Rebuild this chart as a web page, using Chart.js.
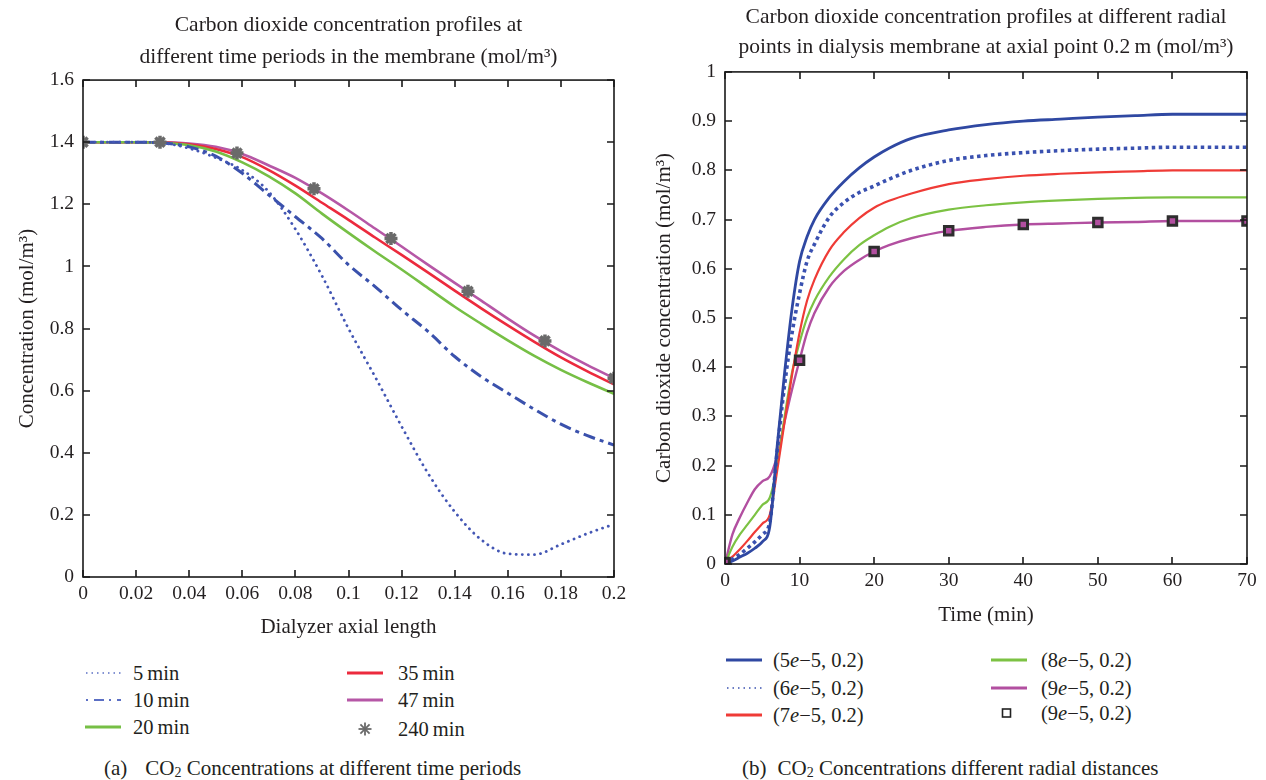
<!DOCTYPE html>
<html>
<head>
<meta charset="utf-8">
<script src="https://cdn.jsdelivr.net/npm/chart.js@4.4.1/dist/chart.umd.min.js"></script>
<style>
  body { margin: 0; background: #fff; }
  #page { position: relative; width: 1266px; height: 780px; overflow: hidden; font-family: 'Liberation Serif', serif; color: #231f20; }
  #page canvas { position: absolute; }
  .leg { position: absolute; height: 24px; font-size: 20.5px; line-height: 24px; white-space: nowrap; }
  .leg svg { position: absolute; left: 0; top: 0; }
  .leg span { position: absolute; top: 0; }
  .cap { position: absolute; font-size: 21px; line-height: 24px; white-space: nowrap; }
</style>
</head>
<body>
<div id="page">
  <canvas id="chartA" width="640" height="645" style="left:0;top:0"></canvas>
  <canvas id="chartB" width="626" height="640" style="left:640px;top:0"></canvas>
  <div class="cap" style="left:104px;top:756px">(a)<span style="margin-left:18px">CO<sub style="font-size:14px;vertical-align:-2px">2</sub> Concentrations at different time periods</span></div>
  <div class="cap" style="left:742px;top:756px">(b)<span style="margin-left:11px">CO<sub style="font-size:14px;vertical-align:-2px">2</sub> Concentrations different radial distances</span></div>
</div>
<script>
// ---- (a) concentration along the dialyzer ----
const axialX = [0, 0.01, 0.02, 0.03, 0.04, 0.05, 0.06, 0.07, 0.08, 0.09, 0.1,
                0.11, 0.12, 0.13, 0.14, 0.15, 0.16, 0.17, 0.18, 0.19, 0.2];
const conc5min  = [1.4, 1.4, 1.4, 1.397, 1.38, 1.35, 1.31, 1.24, 1.12, 0.97, 0.8,
                   0.645, 0.485, 0.333, 0.21, 0.12, 0.075, 0.072, 0.105, 0.14, 0.17];
const conc10min = [1.4, 1.4, 1.4, 1.397, 1.385, 1.355, 1.3, 1.23, 1.16, 1.09, 1.005,
                   0.935, 0.86, 0.79, 0.71, 0.645, 0.592, 0.54, 0.492, 0.455, 0.425];
const conc20min = [1.4, 1.4, 1.4, 1.398, 1.39, 1.37, 1.335, 1.29, 1.235, 1.17, 1.108,
                   1.048, 0.99, 0.93, 0.87, 0.815, 0.762, 0.712, 0.667, 0.627, 0.59];
const conc35min = [1.4, 1.4, 1.4, 1.399, 1.393, 1.378, 1.352, 1.31, 1.26, 1.205, 1.15,
                   1.093, 1.037, 0.98, 0.922, 0.865, 0.81, 0.757, 0.707, 0.662, 0.62];
const conc47min = [1.4, 1.4, 1.4, 1.4, 1.396, 1.385, 1.362, 1.325, 1.285, 1.235, 1.18,
                   1.122, 1.064, 1.005, 0.947, 0.89, 0.832, 0.777, 0.727, 0.682, 0.64];
const star240X = [0, 0.029, 0.058, 0.087, 0.116, 0.145, 0.174, 0.2];
const star240Y = [1.4, 1.4, 1.365, 1.25, 1.09, 0.92, 0.76, 0.64];
const timeLabels = ['5\u2009min', '10\u2009min', '20\u2009min', '35\u2009min', '47\u2009min', '240\u2009min'];
const axialTicks = [0, 0.02, 0.04, 0.06, 0.08, 0.1, 0.12, 0.14, 0.16, 0.18, 0.2];
const axialTickLabels = ['0', '0.02', '0.04', '0.06', '0.08', '0.1', '0.12', '0.14', '0.16', '0.18', '0.2'];
const concTicksA = [0, 0.2, 0.4, 0.6, 0.8, 1, 1.2, 1.4, 1.6];
const concTickLabelsA = ['0', '0.2', '0.4', '0.6', '0.8', '1', '1.2', '1.4', '1.6'];

// ---- (b) concentration over time at radial points ----
const timeMin = [0, 1, 2, 3, 4, 5, 6, 7, 8, 9, 10, 11, 12, 14, 16, 18, 20, 22, 25, 30, 35, 40, 45, 50, 55, 60, 65, 70];
const r5e5 = [0, 0.006, 0.014, 0.022, 0.032, 0.045, 0.075, 0.24, 0.39, 0.52, 0.615, 0.665, 0.7, 0.745,
              0.778, 0.805, 0.827, 0.845, 0.865, 0.882, 0.893, 0.9, 0.904, 0.908, 0.911, 0.914, 0.914, 0.914];
const r6e5 = [0, 0.01, 0.02, 0.032, 0.045, 0.06, 0.085, 0.23, 0.365, 0.47, 0.55, 0.615, 0.65, 0.705,
              0.735, 0.755, 0.768, 0.782, 0.8, 0.82, 0.83, 0.836, 0.84, 0.843, 0.845, 0.847, 0.847, 0.847];
const r7e5 = [0, 0.015, 0.03, 0.047, 0.065, 0.082, 0.1, 0.19, 0.29, 0.385, 0.47, 0.535, 0.578, 0.638,
              0.675, 0.703, 0.724, 0.738, 0.753, 0.772, 0.782, 0.789, 0.793, 0.796, 0.798, 0.8, 0.8, 0.8];
const r8e5 = [0, 0.035, 0.06, 0.08, 0.1, 0.12, 0.135, 0.2, 0.3, 0.39, 0.45, 0.5, 0.535, 0.584,
              0.62, 0.648, 0.668, 0.685, 0.703, 0.72, 0.729, 0.735, 0.739, 0.742, 0.744, 0.745, 0.745, 0.745];
const r9e5 = [0, 0.06, 0.095, 0.125, 0.152, 0.168, 0.178, 0.22, 0.29, 0.355, 0.414, 0.47, 0.51, 0.563,
              0.596, 0.618, 0.635, 0.648, 0.662, 0.677, 0.685, 0.69, 0.692, 0.694, 0.695, 0.697, 0.697, 0.697];
const markX = [0, 10, 20, 30, 40, 50, 60, 70];
const markY = [0.003, 0.414, 0.635, 0.677, 0.69, 0.694, 0.697, 0.697];
const radialLabels = ['(5e\u22125, 0.2)', '(6e\u22125, 0.2)', '(7e\u22125, 0.2)', '(8e\u22125, 0.2)', '(9e\u22125, 0.2)', '(9e\u22125, 0.2)'];
const timeTicks = [0, 10, 20, 30, 40, 50, 60, 70];
const timeTickLabels = ['0', '10', '20', '30', '40', '50', '60', '70'];
const concTicksB = [0, 0.1, 0.2, 0.3, 0.4, 0.5, 0.6, 0.7, 0.8, 0.9, 1];
const concTickLabelsB = ['0', '0.1', '0.2', '0.3', '0.4', '0.5', '0.6', '0.7', '0.8', '0.9', '1'];

const FONT = "'Liberation Serif', serif";
const INK = '#231f20';
const tickFont = { family: FONT, size: 19.5, weight: 'normal' };
const axisTitleFont = { family: FONT, size: 21, weight: 'normal' };

const pts = (xs, ys) => xs.map((x, i) => ({ x: x, y: ys[i] }));

// box round the plot with ticks pointing inwards on all four sides
const frameTicks = {
  id: 'frameTicks',
  afterDatasetsDraw(chart) {
    const { ctx, chartArea: a, scales } = chart;
    const len = 7;
    ctx.save();
    ctx.strokeStyle = '#1a1a1a';
    ctx.lineWidth = 1.6;
    ctx.strokeRect(a.left, a.top, a.width, a.height);
    ctx.beginPath();
    scales.x.ticks.forEach(t => {
      const px = Math.round(scales.x.getPixelForValue(t.value));
      ctx.moveTo(px, a.bottom); ctx.lineTo(px, a.bottom - len);
      ctx.moveTo(px, a.top); ctx.lineTo(px, a.top + len);
    });
    scales.y.ticks.forEach(t => {
      const py = Math.round(scales.y.getPixelForValue(t.value));
      ctx.moveTo(a.left, py); ctx.lineTo(a.left + len, py);
      ctx.moveTo(a.right, py); ctx.lineTo(a.right - len, py);
    });
    ctx.stroke();
    ctx.restore();
  }
};

function axis(min, max, tickVals, tickLabels, title, size, pad, tickPad) {
  return {
    type: 'linear', min: min, max: max,
    afterBuildTicks: s => { s.ticks = tickVals.map(v => ({ value: v })); },
    afterFit: s => { if (s.isHorizontal()) s.height = size; else s.width = size; },
    grid: { display: false, drawTicks: false },
    border: { display: false },
    ticks: {
      color: INK, font: tickFont, padding: tickPad, autoSkip: false, maxRotation: 0,
      callback: (v, i) => tickLabels[i]
    },
    title: { display: true, text: title, color: INK, font: axisTitleFont, padding: pad }
  };
}

const line = (data, color, extra) => Object.assign({
  data: data, borderColor: color, backgroundColor: color, borderWidth: 2.6,
  pointRadius: 0, cubicInterpolationMode: 'monotone', fill: false
}, extra || {});

new Chart(document.getElementById('chartA'), {
  type: 'line',
  data: {
    datasets: [
      line(pts(axialX, conc5min), '#4356b4', { label: timeLabels[0], borderWidth: 2.8, borderDash: [0.1, 6], borderCapStyle: 'round' }),
      line(pts(axialX, conc10min), '#3a51ac', { label: timeLabels[1], borderWidth: 3, borderDash: [12, 5, 4, 5] }),
      line(pts(axialX, conc20min), '#76bf45', { label: timeLabels[2] }),
      line(pts(axialX, conc35min), '#ec2a3d', { label: timeLabels[3] }),
      line(pts(axialX, conc47min), '#b657a6', { label: timeLabels[4] }),
      {
        label: timeLabels[5], data: pts(star240X, star240Y), showLine: false, order: -1,
        pointStyle: 'star', pointRadius: 6.5, borderWidth: 3.5,
        borderColor: '#6a6a6a', backgroundColor: '#6a6a6a'
      }
    ]
  },
  options: {
    responsive: false, animation: false, events: [],
    layout: { padding: { left: 0, right: 26, top: 0, bottom: 0 } },
    plugins: {
      legend: { display: false }, tooltip: { enabled: false },
      title: {
        display: true, fullSize: false, color: INK,
        text: ['Carbon dioxide concentration profiles at', 'different time periods in the membrane (mol/m\u00b3)'],
        font: { family: FONT, size: 21.5, weight: 'normal', lineHeight: 1.49 },
        padding: { top: 9, bottom: 7 }
      }
    },
    scales: {
      x: axis(0, 0.2, axialTicks, axialTickLabels, 'Dialyzer axial length', 68, { top: 0, bottom: 5 }, 5),
      y: axis(0, 1.6, concTicksA, concTickLabelsA, 'Concentration (mol/m\u00b3)', 83, { top: 15, bottom: 0 }, 9)
    }
  },
  plugins: [frameTicks]
});

new Chart(document.getElementById('chartB'), {
  type: 'line',
  data: {
    datasets: [
      line(pts(timeMin, r5e5), '#2f48a2', { label: radialLabels[0], borderWidth: 2.8 }),
      line(pts(timeMin, r6e5), '#3a51b0', { label: radialLabels[1], borderWidth: 3.6, borderDash: [3.5, 3.5] }),
      line(pts(timeMin, r7e5), '#ef3b36', { label: radialLabels[2], borderWidth: 2.2 }),
      line(pts(timeMin, r8e5), '#7cc243', { label: radialLabels[3], borderWidth: 2.2 }),
      line(pts(timeMin, r9e5), '#b24fa0', { label: radialLabels[4], borderWidth: 2.4 }),
      {
        label: radialLabels[5], data: pts(markX, markY), showLine: false, order: -1,
        pointStyle: 'rect', pointRadius: 6, borderWidth: 3,
        borderColor: '#2e2e2e', backgroundColor: '#b24fa0'
      }
    ]
  },
  options: {
    responsive: false, animation: false, events: [],
    layout: { padding: { left: 0, right: 19, top: 0, bottom: 0 } },
    plugins: {
      legend: { display: false }, tooltip: { enabled: false },
      title: {
        display: true, fullSize: false, color: INK,
        text: ['Carbon dioxide concentration profiles at different radial', 'points in dialysis membrane at axial point 0.2\u2009m (mol/m\u00b3)'],
        font: { family: FONT, size: 21.5, weight: 'normal', lineHeight: 1.37 },
        padding: { top: 3, bottom: 10 }
      }
    },
    scales: {
      x: axis(0, 70, timeTicks, timeTickLabels, 'Time (min)', 76, { top: 0, bottom: 12 }, 5),
      y: axis(0, 1, concTicksB, concTickLabelsB, 'Carbon dioxide concentration (mol/m\u00b3)', 85, { top: 12, bottom: 0 }, 9)
    }
  },
  plugins: [frameTicks]
});

// legends drawn as html below each plot, two columns
const SW = 36;
const sample = {
  dotted: c => `<line x1="1" y1="12" x2="${SW}" y2="12" stroke="${c}" stroke-width="1.6" stroke-dasharray="1.5 4"/>`,
  dashdot: c => `<line x1="1" y1="12" x2="${SW}" y2="12" stroke="${c}" stroke-width="2.2" stroke-dasharray="2 6 10 5"/>`,
  solid: c => `<line x1="0" y1="12" x2="${SW}" y2="12" stroke="${c}" stroke-width="3"/>`,
  star: c => [0, 45, 90, 135].map(a => {
    const r = 6.5, dx = r * Math.cos(a * Math.PI / 180), dy = r * Math.sin(a * Math.PI / 180);
    return `<line x1="${18 - dx}" y1="${12 - dy}" x2="${18 + dx}" y2="${12 + dy}" stroke="${c}" stroke-width="1.8"/>`;
  }).join(''),
  square: c => `<rect x="11.5" y="8" width="8" height="8" fill="none" stroke="${c}" stroke-width="1.6"/>`
};

function legendItem(x, textX, y, text, svgInner) {
  const d = document.createElement('div');
  d.className = 'leg';
  d.style.left = x + 'px';
  d.style.top = (y - 12) + 'px';
  d.innerHTML = `<svg width="${SW + 2}" height="24">${svgInner}</svg><span style="left:${textX - x}px">${text}</span>`;
  document.getElementById('page').appendChild(d);
}

legendItem(85, 133, 673, timeLabels[0], sample.dotted('#5b6fc4'));
legendItem(85, 133, 700, timeLabels[1], sample.dashdot('#5b6fc4'));
legendItem(85, 133, 727, timeLabels[2], sample.solid('#76bf45'));
legendItem(347, 398, 673, timeLabels[3], sample.solid('#ec2a3d'));
legendItem(347, 398, 700, timeLabels[4], sample.solid('#b657a6'));
legendItem(347, 398, 729, timeLabels[5], sample.star('#6a6a6a'));

const italE = s => s.replace('e', '<i>e</i>');
legendItem(726, 773, 660, italE(radialLabels[0]), sample.solid('#2f48a2'));
legendItem(726, 773, 688, italE(radialLabels[1]), sample.dotted('#3a51b0'));
legendItem(726, 773, 715, italE(radialLabels[2]), sample.solid('#ef3b36'));
legendItem(991, 1041, 660, italE(radialLabels[3]), sample.solid('#7cc243'));
legendItem(991, 1041, 688, italE(radialLabels[4]), sample.solid('#b24fa0'));
legendItem(991, 1041, 713, italE(radialLabels[5]), sample.square('#222'));
</script>
</body>
</html>
